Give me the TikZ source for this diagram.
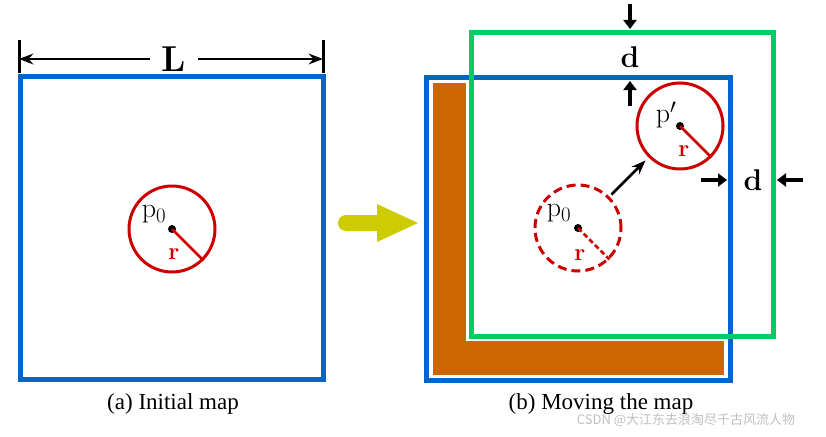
\documentclass[tikz,border=0pt]{standalone}
\usepackage{fontspec}
\usepackage{amsmath}
\newfontfamily\capfont{Liberation Serif}
\newfontfamily\cjkfont{Noto Sans CJK SC}
\usetikzlibrary{arrows.meta}

\definecolor{mapblue}{RGB}{0,102,204}
\definecolor{robred}{RGB}{204,0,0}
\definecolor{winegreen}{RGB}{0,204,102}
\definecolor{wallbrown}{RGB}{204,102,0}
\definecolor{moveyellow}{RGB}{204,204,0}

\begin{document}
\begin{tikzpicture}[
		x=1pt,y=-1pt,
		mapbox/.style={draw=mapblue,line width=5pt},
		winbox/.style={draw=winegreen,line width=5pt},
		robot/.style={circle,draw=robred,line width=3pt,minimum size=86pt,inner sep=0pt},
		dot/.style={circle,fill=black,minimum size=8pt,inner sep=0pt},
		rlabel/.style={text=robred,font=\fontsize{24}{24}\selectfont\bfseries,inner sep=0pt},
		plabel/.style={font=\fontsize{28}{28}\selectfont,inner sep=0pt},
		dlabel/.style={font=\fontsize{30}{30}\selectfont\bfseries,inner sep=0pt},
		caption/.style={font=\fontsize{23}{23}\selectfont\capfont,inner sep=0pt},
		darrow/.style={line width=4pt,-{Triangle[width=13pt,length=9pt]}},
		>=Stealth
	]
	\useasboundingbox (0,0) rectangle (826,436);

	% (a) initial map
	\draw[mapbox] (20.5,76.5) rectangle (323.5,379.5);
	\coordinate (tl) at (19,59);
	\coordinate (tr) at (323,59);
	\draw[line width=3pt] (19,40) -- (19,73);
	\draw[line width=3pt] (323,40) -- (323,73);
	\node (L) at (174,59) [font=\fontsize{36}{36}\selectfont\bfseries,inner xsep=12pt] {L};
	\draw[->,line width=2.5pt] (L) -- (tl);
	\draw[->,line width=2.5pt] (L) -- (tr);

	\node (ca) [robot] at (172,229) {};
	\node (ca dot) [dot] at (ca.center) {};
	\draw[robred,line width=2.5pt] (ca.center) -- (ca.-45);
	\node (ca p) [plabel] at (154,214) {$\mathrm{p}_0$};
	\node (ca r) [rlabel] at (174,254) {r};

	\node (capa) [caption] at (173,404) {(a) Initial map};

	% moving arrow between (a) and (b)
	\fill[moveyellow] (346,215) -- (377,215) -- (377,204) -- (418,223)
		-- (377,242) -- (377,231) -- (346,231) arc[start angle=90,end angle=270,radius=8] -- cycle;

	% (b) moving the map
	\draw[mapbox] (426.5,77.5) rectangle (730.5,380.5);
	\draw[fill=wallbrown,draw=white,line width=1pt]
		(432,82) -- (466,82) -- (466,340) -- (724,340) -- (724,375) -- (432,375) -- cycle;

	\node (cb old) [robot,dashed,dash pattern=on 9pt off 5pt] at (578,228) {};
	\node (cb old dot) [dot] at (cb old.center) {};
	\draw[robred,line width=2.5pt,dash pattern=on 5pt off 3pt] (cb old.center) -- (cb old.-45);
	\node (cb old p) [plabel] at (559,213) {$\mathrm{p}_0$};
	\node (cb old r) [rlabel] at (580,255) {r};

	\node (cb new) [robot] at (680,126) {};
	\node (cb new dot) [dot] at (cb new.center) {};
	\draw[robred,line width=2.5pt] (cb new.center) -- (cb new.-45);
	\node (cb new p) [plabel] at (666,115) {$\mathrm{p}'$};
	\node (cb new r) [rlabel] at (684,151) {r};

	\path (cb old.45) ++(2,-2) coordinate (mv a) (cb new.225) ++(-3,3) coordinate (mv b);
	\draw[->,line width=2.5pt] (mv a) -- (mv b);

	\draw[winbox] (471,33) rectangle (773,336);

	% margins d
	\node (d top) [dlabel] at (630,57) {d};
	\node (d right) [dlabel] at (753,180) {d};
	\coordinate (top out) at (630,4);
	\coordinate (top win) at (630,29);
	\coordinate (top in) at (630,106);
	\coordinate (top map) at (630,81);
	\coordinate (rt in) at (701,180);
	\coordinate (rt map) at (727,180);
	\coordinate (rt out) at (803,180);
	\coordinate (rt win) at (777,180);
	\draw[darrow] (top out) -- (top win);
	\draw[darrow] (top in) -- (top map);
	\draw[darrow] (rt in) -- (rt map);
	\draw[darrow] (rt out) -- (rt win);

	\node (capb) [caption] at (601,404) {(b) Moving the map};
	\node (mark) [font=\fontsize{13}{13}\selectfont\cjkfont,text=black!25,inner sep=0pt] at (686,420) {CSDN @大江东去浪淘尽千古风流人物};

\end{tikzpicture}
\end{document}
